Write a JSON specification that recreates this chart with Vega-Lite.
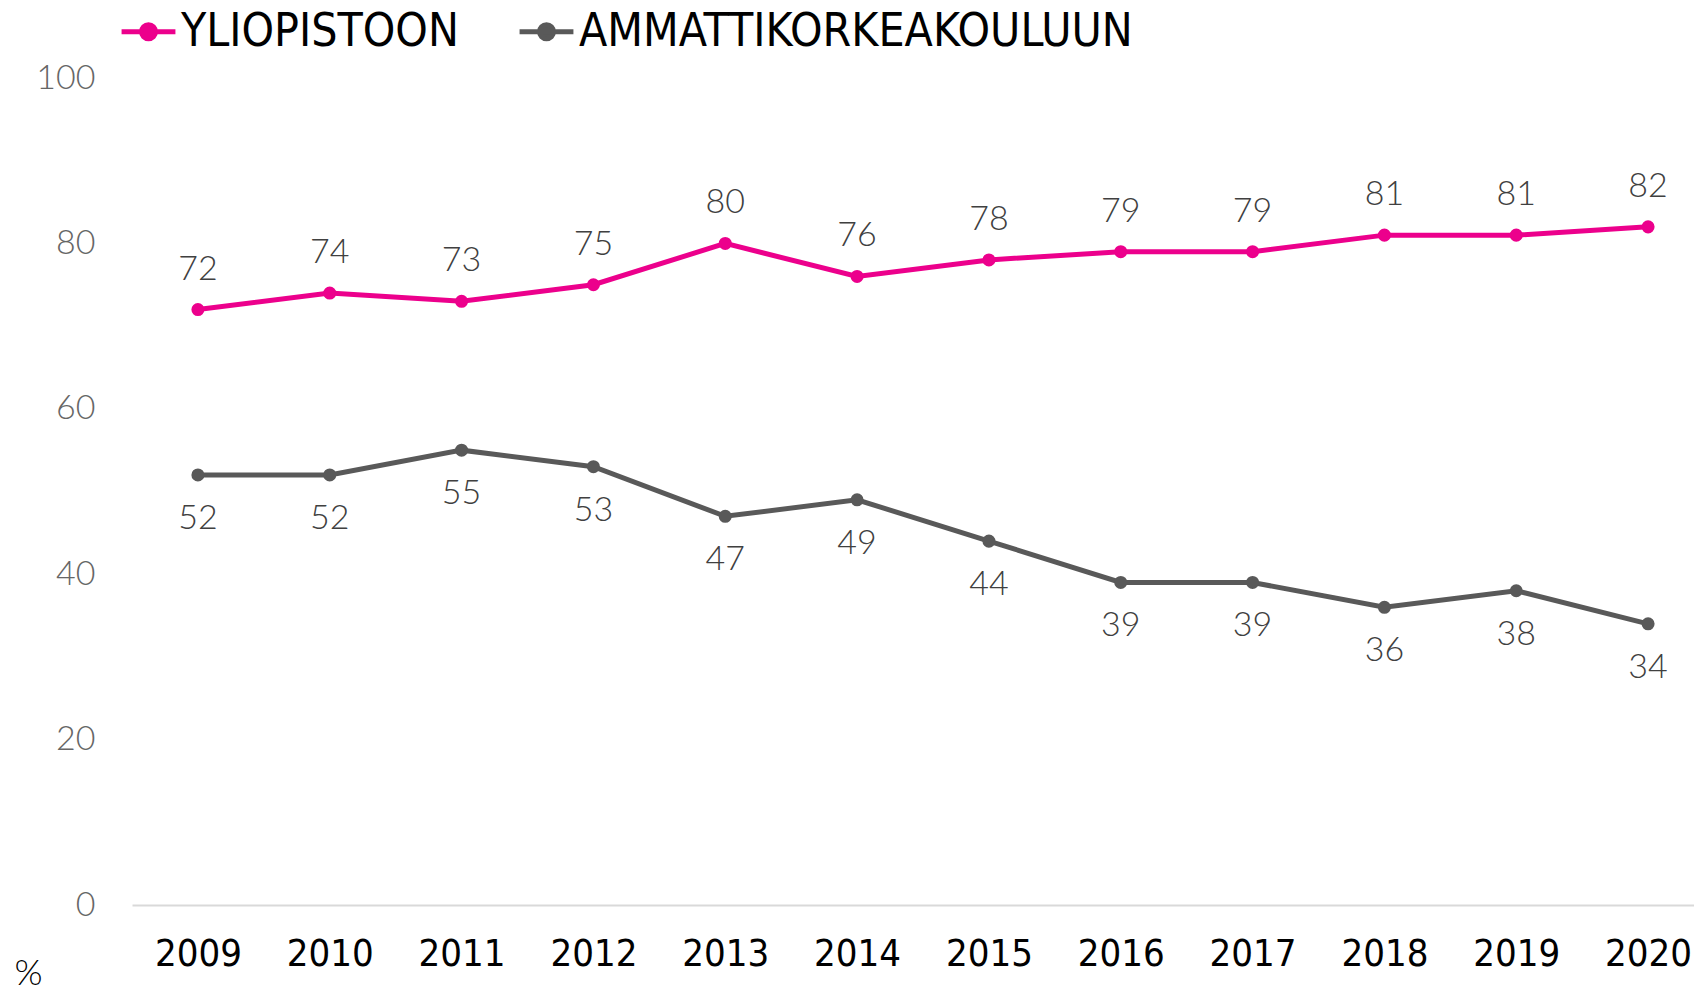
{
  "$schema": "https://vega.github.io/schema/vega-lite/v6.json",
  "autosize": "none",
  "padding": {"left": 132, "top": 78, "right": 0, "bottom": 89},
  "width": 1582,
  "height": 827,
  "background": "white",
  "data": {
    "values": [
      {"year": "2009", "series": "YLIOPISTOON", "value": 72},
      {"year": "2010", "series": "YLIOPISTOON", "value": 74},
      {"year": "2011", "series": "YLIOPISTOON", "value": 73},
      {"year": "2012", "series": "YLIOPISTOON", "value": 75},
      {"year": "2013", "series": "YLIOPISTOON", "value": 80},
      {"year": "2014", "series": "YLIOPISTOON", "value": 76},
      {"year": "2015", "series": "YLIOPISTOON", "value": 78},
      {"year": "2016", "series": "YLIOPISTOON", "value": 79},
      {"year": "2017", "series": "YLIOPISTOON", "value": 79},
      {"year": "2018", "series": "YLIOPISTOON", "value": 81},
      {"year": "2019", "series": "YLIOPISTOON", "value": 81},
      {"year": "2020", "series": "YLIOPISTOON", "value": 82},
      {"year": "2009", "series": "AMMATTIKORKEAKOULUUN", "value": 52},
      {"year": "2010", "series": "AMMATTIKORKEAKOULUUN", "value": 52},
      {"year": "2011", "series": "AMMATTIKORKEAKOULUUN", "value": 55},
      {"year": "2012", "series": "AMMATTIKORKEAKOULUUN", "value": 53},
      {"year": "2013", "series": "AMMATTIKORKEAKOULUUN", "value": 47},
      {"year": "2014", "series": "AMMATTIKORKEAKOULUUN", "value": 49},
      {"year": "2015", "series": "AMMATTIKORKEAKOULUUN", "value": 44},
      {"year": "2016", "series": "AMMATTIKORKEAKOULUUN", "value": 39},
      {"year": "2017", "series": "AMMATTIKORKEAKOULUUN", "value": 39},
      {"year": "2018", "series": "AMMATTIKORKEAKOULUUN", "value": 36},
      {"year": "2019", "series": "AMMATTIKORKEAKOULUUN", "value": 38},
      {"year": "2020", "series": "AMMATTIKORKEAKOULUUN", "value": 34}
    ]
  },
  "encoding": {
    "x": {
      "field": "year", "type": "ordinal",
      "scale": {"type": "point", "padding": 0.5},
      "axis": {
        "title": null, "labelAngle": 0, "ticks": false, "grid": false,
        "domainColor": "#d9d9d9", "domainWidth": 2,
        "labelFont": "Liberation Sans Narrow, DejaVu Sans Condensed, Lato",
        "labelFontSize": 38, "labelColor": "#000000", "labelPadding": 30
      }
    },
    "y": {
      "field": "value", "type": "quantitative",
      "scale": {"domain": [0, 100]},
      "axis": {
        "values": [0, 20, 40, 60, 80, 100],
        "grid": false, "ticks": false, "domain": false,
        "labelFont": "Lato", "labelFontWeight": 300,
        "labelFontSize": 34, "labelColor": "#666666", "labelPadding": 37,
        "title": "%", "titleAngle": 0, "titleX": -104, "titleY": 895,
        "titleAlign": "center", "titleBaseline": "middle",
        "titleFont": "Lato", "titleFontWeight": 300, "titleFontSize": 36, "titleColor": "#000000"
      }
    },
    "color": {
      "field": "series", "type": "nominal",
      "scale": {"domain": ["YLIOPISTOON", "AMMATTIKORKEAKOULUUN"], "range": ["#EC008C", "#595959"]},
      "legend": {
        "title": null, "orient": "none", "direction": "horizontal",
        "legendX": -13, "legendY": -76,
        "symbolType": "M-1,0H1M-0.26,0A0.26,0.26,0,1,1,0.26,0A0.26,0.26,0,1,1,-0.26,0Z",
        "symbolSize": 2900, "symbolStrokeWidth": 5,
        "labelFont": "Liberation Sans Narrow, DejaVu Sans Condensed, Lato",
        "labelFontSize": 46, "labelFontWeight": 300, "labelColor": "#000000", "labelOffset": 3, "labelLimit": 2000,
        "columnPadding": 50
      }
    }
  },
  "layer": [
    {"mark": {"type": "line", "strokeWidth": 5}},
    {"mark": {"type": "point", "filled": true, "size": 170, "opacity": 1}},
    {
      "transform": [{"filter": "datum.series === 'YLIOPISTOON'"}],
      "mark": {"type": "text", "dy": -40, "baseline": "middle", "font": "Lato", "fontWeight": 300, "fontSize": 34},
      "encoding": {"text": {"field": "value"}, "color": {"value": "#404040"}}
    },
    {
      "transform": [{"filter": "datum.series === 'AMMATTIKORKEAKOULUUN'"}],
      "mark": {"type": "text", "dy": 44, "baseline": "middle", "font": "Lato", "fontWeight": 300, "fontSize": 34},
      "encoding": {"text": {"field": "value"}, "color": {"value": "#404040"}}
    }
  ],
  "config": {"view": {"stroke": null}}
}
